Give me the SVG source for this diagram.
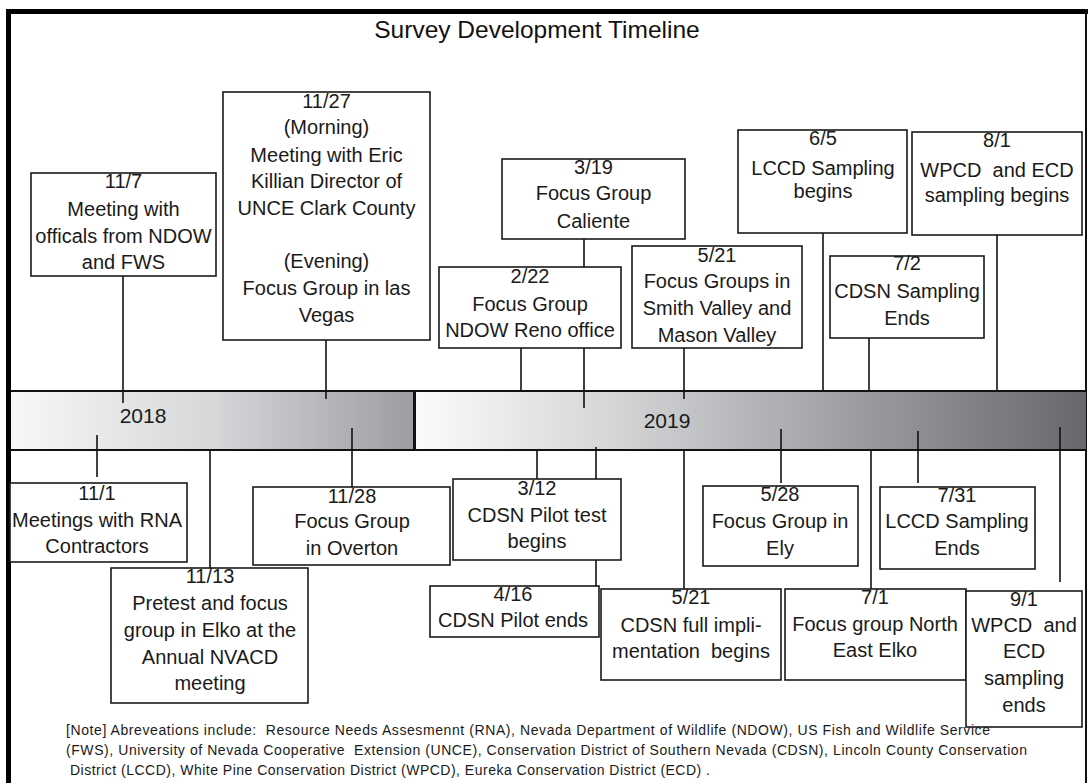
<svg xmlns="http://www.w3.org/2000/svg" width="1088" height="783" viewBox="0 0 1088 783">
<style>
.box{fill:#fff;stroke:#1a1a1a;stroke-width:1.6}
.t{font-family:"Liberation Sans",Arial,sans-serif;font-size:20px;text-anchor:middle;fill:#1a1a1a;white-space:pre}
.c{stroke:#111;stroke-width:1.6;fill:none}
.yr{font-family:"Liberation Sans",Arial,sans-serif;font-size:21px;text-anchor:middle;fill:#1a1a1a}
.note{font-family:"Liberation Sans",Arial,sans-serif;font-size:14px;fill:#1a1a1a;white-space:pre}
</style>
<defs>
<linearGradient id="g18" x1="0" y1="0" x2="1" y2="0">
<stop offset="0" stop-color="#f7f7f7"/><stop offset="0.5" stop-color="#d6d7d9"/><stop offset="1" stop-color="#9c9da1"/>
</linearGradient>
<linearGradient id="g19" x1="0" y1="0" x2="1" y2="0">
<stop offset="0" stop-color="#fbfbfb"/><stop offset="0.3" stop-color="#d4d5d7"/><stop offset="1" stop-color="#68686c"/>
</linearGradient>
</defs>
<rect x="0" y="0" width="1088" height="783" fill="#fff"/>
<g id="frame">
<rect x="6" y="9" width="5" height="774" fill="#000"/>
<rect x="6" y="9" width="1082" height="5" fill="#000"/>
<rect x="1085" y="9" width="2" height="774" fill="#111"/>
</g>
<text id="title" x="537" y="38" style="font-family:'Liberation Sans',Arial,sans-serif;font-size:24.5px;text-anchor:middle;fill:#111">Survey Development Timeline</text>
<g id="timeline">
<rect x="11" y="391" width="404" height="59" fill="url(#g18)"/>
<rect x="415" y="391" width="671" height="59" fill="url(#g19)"/>
<line x1="11" y1="391" x2="1086" y2="391" stroke="#111" stroke-width="2"/>
<line x1="11" y1="450" x2="1086" y2="450" stroke="#111" stroke-width="2"/>
<line x1="414.5" y1="391" x2="414.5" y2="450" stroke="#111" stroke-width="3"/>
<text class="yr" x="143" y="423">2018</text>
<text class="yr" x="667" y="428">2019</text>
</g>
<g id="connectors">
<line class="c" x1="123" y1="276" x2="123" y2="403"/>
<line class="c" x1="326" y1="340" x2="326" y2="399"/>
<line class="c" x1="584" y1="239" x2="584" y2="408"/>
<line class="c" x1="521" y1="348" x2="521" y2="391"/>
<line class="c" x1="684" y1="348" x2="684" y2="399"/>
<line class="c" x1="823" y1="233" x2="823" y2="391"/>
<line class="c" x1="997" y1="235" x2="997" y2="391"/>
<line class="c" x1="869" y1="338" x2="869" y2="391"/>
<line class="c" x1="97" y1="435" x2="97" y2="477"/>
<line class="c" x1="210" y1="450" x2="210" y2="568"/>
<line class="c" x1="352" y1="428" x2="352" y2="487"/>
<line class="c" x1="537" y1="450" x2="537" y2="479"/>
<line class="c" x1="596" y1="447" x2="596" y2="586"/>
<line class="c" x1="684" y1="450" x2="684" y2="589"/>
<line class="c" x1="781" y1="429" x2="781" y2="483"/>
<line class="c" x1="918" y1="431" x2="918" y2="483"/>
<line class="c" x1="871" y1="450" x2="871" y2="589"/>
<line class="c" x1="1060" y1="427" x2="1060" y2="582"/>
</g>
<g id="n-11-7">
<rect class="box" x="31" y="173" width="185" height="103"/>
<text class="t" x="123.5" y="188">11/7</text>
<text class="t" x="123.5" y="216">Meeting with</text>
<text class="t" x="123.5" y="243">officals from NDOW</text>
<text class="t" x="123.5" y="269">and FWS</text>
</g>
<g id="n-11-27">
<rect class="box" x="223" y="92" width="207" height="248"/>
<text class="t" x="326.5" y="108">11/27</text>
<text class="t" x="326.5" y="134">(Morning)</text>
<text class="t" x="326.5" y="162">Meeting with Eric</text>
<text class="t" x="326.5" y="188">Killian Director of</text>
<text class="t" x="326.5" y="215">UNCE Clark County</text>
<text class="t" x="326.5" y="268">(Evening)</text>
<text class="t" x="326.5" y="295">Focus Group in las</text>
<text class="t" x="326.5" y="322">Vegas</text>
</g>
<g id="n-3-19">
<rect class="box" x="502" y="159" width="183" height="80"/>
<text class="t" x="593.5" y="174">3/19</text>
<text class="t" x="593.5" y="200">Focus Group</text>
<text class="t" x="593.5" y="228">Caliente</text>
</g>
<g id="n-2-22">
<rect class="box" x="439" y="267" width="182" height="81"/>
<text class="t" x="530" y="283">2/22</text>
<text class="t" x="530" y="311">Focus Group</text>
<text class="t" x="530" y="337">NDOW Reno office</text>
</g>
<g id="n-5-21-top">
<rect class="box" x="632" y="246" width="170" height="102"/>
<text class="t" x="717" y="262">5/21</text>
<text class="t" x="717" y="288">Focus Groups in</text>
<text class="t" x="717" y="315">Smith Valley and</text>
<text class="t" x="717" y="342">Mason Valley</text>
</g>
<g id="n-6-5">
<rect class="box" x="738" y="130" width="169" height="103"/>
<text class="t" x="823" y="145">6/5</text>
<text class="t" x="823" y="175">LCCD Sampling</text>
<text class="t" x="823" y="198">begins</text>
</g>
<g id="n-8-1">
<rect class="box" x="912" y="132" width="170" height="103"/>
<text class="t" x="997" y="147">8/1</text>
<text class="t" x="997" y="177">WPCD  and ECD</text>
<text class="t" x="997" y="202">sampling begins</text>
</g>
<g id="n-7-2">
<rect class="box" x="830" y="256" width="154" height="82"/>
<text class="t" x="907" y="270">7/2</text>
<text class="t" x="907" y="298">CDSN Sampling</text>
<text class="t" x="907" y="325">Ends</text>
</g>
<g id="n-11-1">
<rect class="box" x="10" y="483" width="177" height="79"/>
<text class="t" x="97" y="500">11/1</text>
<text class="t" x="97" y="527">Meetings with RNA</text>
<text class="t" x="97" y="553">Contractors</text>
</g>
<g id="n-11-13">
<rect class="box" x="111" y="568" width="197" height="135"/>
<text class="t" x="210" y="583">11/13</text>
<text class="t" x="210" y="610">Pretest and focus</text>
<text class="t" x="210" y="637">group in Elko at the</text>
<text class="t" x="210" y="664">Annual NVACD</text>
<text class="t" x="210" y="690">meeting</text>
</g>
<g id="n-11-28">
<rect class="box" x="253" y="487" width="197" height="78"/>
<text class="t" x="352" y="503">11/28</text>
<text class="t" x="352" y="528">Focus Group</text>
<text class="t" x="352" y="555">in Overton</text>
</g>
<g id="n-3-12">
<rect class="box" x="453" y="479" width="168" height="81"/>
<text class="t" x="537" y="495">3/12</text>
<text class="t" x="537" y="522">CDSN Pilot test</text>
<text class="t" x="537" y="548">begins</text>
</g>
<g id="n-4-16">
<rect class="box" x="430" y="586" width="169" height="51"/>
<text class="t" x="513" y="601">4/16</text>
<text class="t" x="513" y="627">CDSN Pilot ends</text>
</g>
<g id="n-5-21-bottom">
<rect class="box" x="601" y="589" width="180" height="91"/>
<text class="t" x="691" y="604">5/21</text>
<text class="t" x="691" y="632">CDSN full impli-</text>
<text class="t" x="691" y="658">mentation  begins</text>
</g>
<g id="n-5-28">
<rect class="box" x="703" y="486" width="155" height="80"/>
<text class="t" x="780" y="501">5/28</text>
<text class="t" x="780" y="528">Focus Group in</text>
<text class="t" x="780" y="555">Ely</text>
</g>
<g id="n-7-31">
<rect class="box" x="880" y="487" width="155" height="82"/>
<text class="t" x="957" y="502">7/31</text>
<text class="t" x="957" y="528">LCCD Sampling</text>
<text class="t" x="957" y="555">Ends</text>
</g>
<g id="n-7-1">
<rect class="box" x="785" y="589" width="181" height="91"/>
<text class="t" x="875" y="604">7/1</text>
<text class="t" x="875" y="631">Focus group North</text>
<text class="t" x="875" y="657">East Elko</text>
</g>
<g id="n-9-1">
<rect class="box" x="966" y="591" width="116" height="136"/>
<text class="t" x="1024" y="606">9/1</text>
<text class="t" x="1024" y="632">WPCD  and</text>
<text class="t" x="1024" y="658">ECD</text>
<text class="t" x="1024" y="685">sampling</text>
<text class="t" x="1024" y="712">ends</text>
</g>
<g id="note">
<text class="note" x="66" y="735" textLength="924" lengthAdjust="spacing">[Note] Abreveations include:  Resource Needs Assesmennt (RNA), Nevada Department of Wildlife (NDOW), US Fish and Wildlife Service</text>
<text class="note" x="66" y="755" textLength="961" lengthAdjust="spacing">(FWS), University of Nevada Cooperative  Extension (UNCE), Conservation District of Southern Nevada (CDSN), Lincoln County Conservation</text>
<text class="note" x="70" y="775" textLength="640" lengthAdjust="spacing">District (LCCD), White Pine Conservation District (WPCD), Eureka Conservation District (ECD) .</text>
</g>
</svg>
